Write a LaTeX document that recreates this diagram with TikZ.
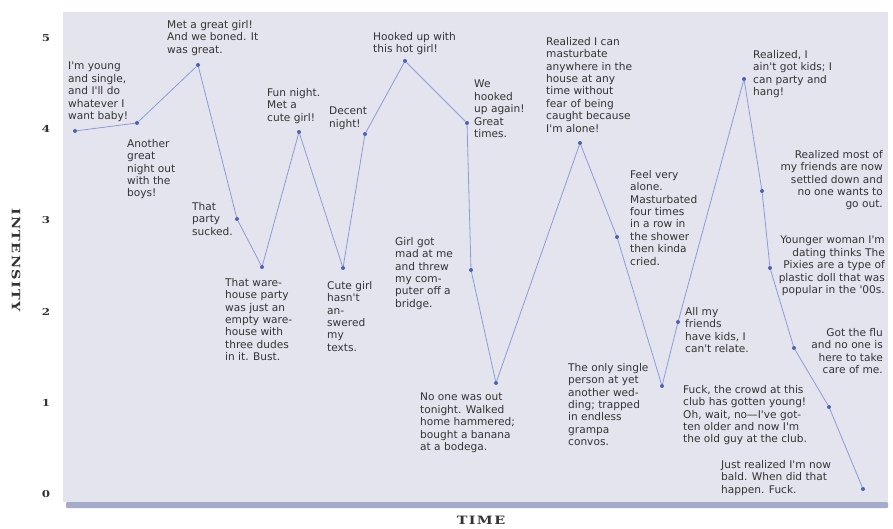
\documentclass[tikz,border=0pt]{standalone}
\usepackage{fontspec}
\usepackage{tikz}
\newfontfamily\notefont{DejaVu Sans}
\newfontfamily\axisfont[FakeStretch=1.25, LetterSpace=12]{DejaVu Serif}

\definecolor{plotbg}{HTML}{E4E4EF}
\definecolor{barblue}{HTML}{A7ABCA}
\definecolor{linkblue}{HTML}{8E9BD6}
\definecolor{dotblue}{HTML}{4A64B0}
\definecolor{txtgray}{HTML}{333333}

\begin{document}
\begin{tikzpicture}[x=1pt, y=-1pt,
    note/.style={font=\notefont\fontsize{10.6}{12.4}\selectfont, text=txtgray, inner sep=0pt, align=left, anchor=north west},
    noter/.style={note, align=right, anchor=north east},
    dot/.style={circle, fill=dotblue, inner sep=0pt, minimum size=4pt},
    trend/.style={linkblue, line width=0.8pt},
    tick/.style={font=\axisfont\bfseries\fontsize{9.5}{10}\selectfont, text=txtgray},
    axislabel/.style={font=\axisfont\bfseries\fontsize{11.5}{12}\selectfont, text=txtgray}]
        \useasboundingbox (0,0) rectangle (893,529);

        % --- Plot area ---
        \fill[plotbg] (63,12) rectangle (888,502);
        \fill[barblue, rounded corners=1pt] (66,502) rectangle (888,508);
        % ---

        % --- Axes ---
        \foreach \v in {0,...,5}
            \node[tick] (t\v) at (46,{494-91.2*\v}) {\v};
        \node[axislabel, rotate=-90] (ylab) at (16,260) {INTENSITY};
        \node[axislabel] (xlab) at (481,520) {TIME};
        % ---

        % --- Data points ---
        \foreach \n/\x/\y in {1/75/131, 2/137/123, 3/198/65, 4/237/219, 5/262/267,
                6/299/132, 7/343/268, 8/365/134, 9/405/61, 10/467/123, 11/471/270,
                12/496/383, 13/580/143, 14/617/237, 15/662/386, 16/678/322,
                17/744/79, 18/762/191, 19/770/268, 20/794/348, 21/829/407, 22/863/489}
            \node[dot] (p\n) at (\x,\y) {};
        \draw[trend] (p1) -- (p2) -- (p3) -- (p4) -- (p5) -- (p6) -- (p7) -- (p8) -- (p9) -- (p10) -- (p11)
            -- (p12) -- (p13) -- (p14) -- (p15) -- (p16) -- (p17) -- (p18) -- (p19) -- (p20) -- (p21) -- (p22);
        % ---

        % --- Notes ---
        \node[note] (l1) at (68,62) {I'm young\\and single,\\and I'll do\\whatever I\\want baby!};
        \node[note] (l2) at (127,139) {Another\\great\\night out\\with the\\boys!};
        \node[note] (l3) at (167,20) {Met a great girl!\\And we boned. It\\was great.};
        \node[note] (l4) at (192,202) {That\\party\\sucked.};
        \node[note] (l5) at (225,278) {That ware-\\house party\\was just an\\empty ware-\\house with\\three dudes\\in it. Bust.};
        \node[note] (l6) at (267,88) {Fun night.\\Met a\\cute girl!};
        \node[note] (l7) at (327,281) {Cute girl\\hasn't\\an-\\swered\\my\\texts.};
        \node[note] (l8) at (329,107) {Decent\\night!};
        \node[note] (l9) at (373,32) {Hooked up with\\this hot girl!};
        \node[note] (l10) at (474,80) {We\\hooked\\up again!\\Great\\times.};
        \node[note] (l11) at (395,237) {Girl got\\mad at me\\and threw\\my com-\\puter off a\\bridge.};
        \node[note] (l12) at (420,393) {No one was out\\tonight. Walked\\home hammered;\\bought a banana\\at a bodega.};
        \node[note] (l13) at (546,37) {Realized I can\\masturbate\\anywhere in the\\house at any\\time without\\fear of being\\caught because\\I'm alone!};
        \node[note] (l14) at (630,170) {Feel very\\alone.\\Masturbated\\four times\\in a row in\\the shower\\then kinda\\cried.};
        \node[note] (l15) at (568,363) {The only single\\person at yet\\another wed-\\ding; trapped\\in endless\\grampa\\convos.};
        \node[note] (l16) at (685,307) {All my\\friends\\have kids, I\\can't relate.};
        \node[note] (l17) at (753,50) {Realized, I\\ain't got kids; I\\can party and\\hang!};
        \node[noter] (l18) at (883,150) {Realized most of\\my friends are now\\settled down and\\no one wants to\\go out.};
        \node[noter] (l19) at (885,236) {Younger woman I'm\\dating thinks The\\Pixies are a type of\\plastic doll that was\\popular in the '00s.};
        \node[noter] (l20) at (883,328) {Got the flu\\and no one is\\here to take\\care of me.};
        \node[note] (l21) at (683,385) {Fuck, the crowd at this\\club has gotten young!\\Oh, wait, no—I've got-\\ten older and now I'm\\the old guy at the club.};
        \node[note] (l22) at (721,460) {Just realized I'm now\\bald. When did that\\happen. Fuck.};
        % ---
\end{tikzpicture}
\end{document}
